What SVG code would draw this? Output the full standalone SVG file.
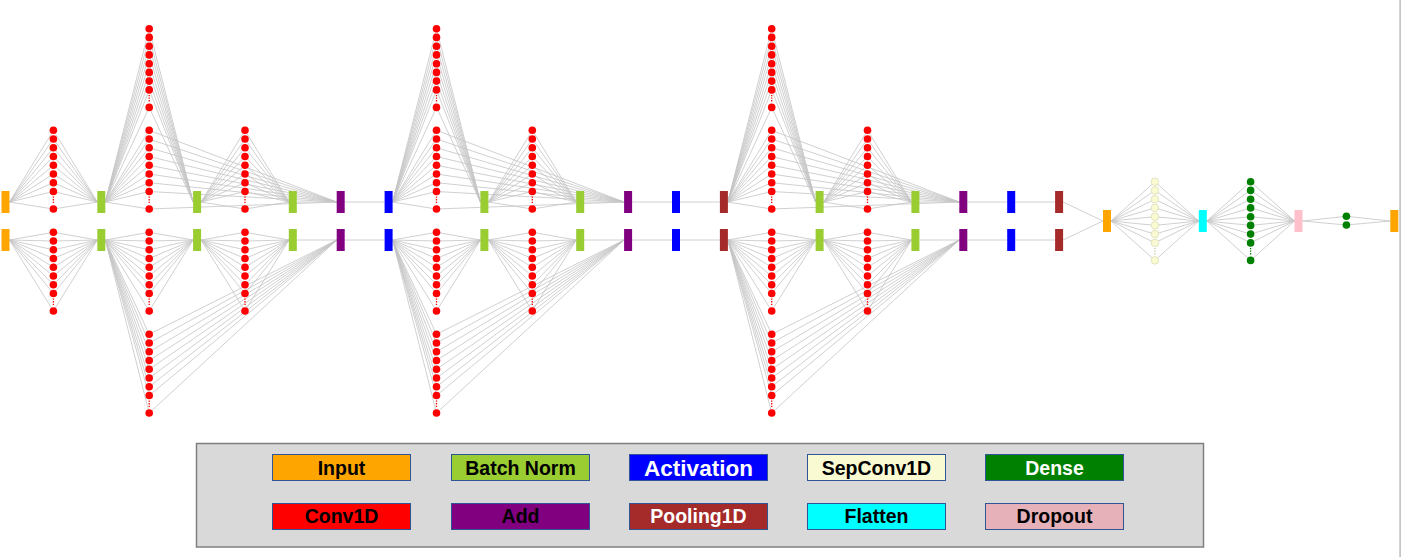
<svg xmlns="http://www.w3.org/2000/svg" width="1402" height="557" viewBox="0 0 1402 557">
<style>
.c path{stroke:#c4c4c4;stroke-width:0.8;fill:none}
.red circle{fill:#ff0000}
.sepc circle{fill:#fafad2;stroke:#d9d9b4;stroke-width:0.7}
.dn circle{fill:#008000}
.dtr{stroke:#ff0000;stroke-width:1.3;stroke-dasharray:1.3 1.3}
.dts{stroke:#c8c8a8;stroke-width:1.3;stroke-dasharray:1.3 1.3}
.dtg{stroke:#008000;stroke-width:1.3;stroke-dasharray:1.3 1.3}
.inp{fill:#ffa500}.bn{fill:#9acd32}.act{fill:#0000ff}.add{fill:#800080}.pool{fill:#a52a2a}.flat{fill:#00ffff}.drop{fill:#ffc0cb}
.lg rect{stroke:#2f5597;stroke-width:1}
.lt{font-family:"Liberation Sans",Arial,sans-serif;font-weight:bold;font-size:19.5px;text-anchor:middle}
</style>
<rect x="0" y="0" width="1402" height="557" fill="#ffffff"/>
<rect x="1399.3" y="0" width="1.6" height="557" fill="#c0c0c0"/>
<g id="connectors" class="c">
<g transform="translate(53.4,0)">
<path d="M-43.9 202L0 130.3"/><path d="M-43.9 202L0 139"/><path d="M-43.9 202L0 147.8"/><path d="M-43.9 202L0 156.5"/><path d="M-43.9 202L0 165.3"/><path d="M-43.9 202L0 174"/><path d="M-43.9 202L0 182.7"/><path d="M-43.9 202L0 191.5"/><path d="M-43.9 202L0 209"/>
<path d="M0 130.3L43.9 202"/><path d="M0 139L43.9 202"/><path d="M0 147.8L43.9 202"/><path d="M0 156.5L43.9 202"/><path d="M0 165.3L43.9 202"/><path d="M0 174L43.9 202"/><path d="M0 182.7L43.9 202"/><path d="M0 191.5L43.9 202"/><path d="M0 209L43.9 202"/>
<path d="M-43.9 240L0 232.3"/><path d="M-43.9 240L0 241"/><path d="M-43.9 240L0 249.8"/><path d="M-43.9 240L0 258.5"/><path d="M-43.9 240L0 267.3"/><path d="M-43.9 240L0 276"/><path d="M-43.9 240L0 284.7"/><path d="M-43.9 240L0 293.5"/><path d="M-43.9 240L0 311"/>
<path d="M0 232.3L43.9 240"/><path d="M0 241L43.9 240"/><path d="M0 249.8L43.9 240"/><path d="M0 258.5L43.9 240"/><path d="M0 267.3L43.9 240"/><path d="M0 276L43.9 240"/><path d="M0 284.7L43.9 240"/><path d="M0 293.5L43.9 240"/><path d="M0 311L43.9 240"/>
</g>
<g transform="translate(149.2,0)">
<path d="M-43.9 202L0 28.7"/><path d="M-43.9 202L0 37.4"/><path d="M-43.9 202L0 46.2"/><path d="M-43.9 202L0 54.9"/><path d="M-43.9 202L0 63.7"/><path d="M-43.9 202L0 72.4"/><path d="M-43.9 202L0 81.1"/><path d="M-43.9 202L0 89.9"/><path d="M-43.9 202L0 107.4"/>
<path d="M-43.9 202L0 130.3"/><path d="M-43.9 202L0 139"/><path d="M-43.9 202L0 147.8"/><path d="M-43.9 202L0 156.5"/><path d="M-43.9 202L0 165.3"/><path d="M-43.9 202L0 174"/><path d="M-43.9 202L0 182.7"/><path d="M-43.9 202L0 191.5"/><path d="M-43.9 202L0 209"/>
<path d="M0 28.7L43.9 202"/><path d="M0 37.4L43.9 202"/><path d="M0 46.2L43.9 202"/><path d="M0 54.9L43.9 202"/><path d="M0 63.7L43.9 202"/><path d="M0 72.4L43.9 202"/><path d="M0 81.1L43.9 202"/><path d="M0 89.9L43.9 202"/><path d="M0 107.4L43.9 202"/>
<path d="M0 130.3L187.6 202"/><path d="M0 139L187.6 202"/><path d="M0 147.8L187.6 202"/><path d="M0 156.5L187.6 202"/><path d="M0 165.3L187.6 202"/><path d="M0 174L187.6 202"/><path d="M0 182.7L187.6 202"/><path d="M0 191.5L187.6 202"/><path d="M0 209L187.6 202"/>
<path d="M51.9 202L95.8 130.3"/><path d="M51.9 202L95.8 139"/><path d="M51.9 202L95.8 147.8"/><path d="M51.9 202L95.8 156.5"/><path d="M51.9 202L95.8 165.3"/><path d="M51.9 202L95.8 174"/><path d="M51.9 202L95.8 182.7"/><path d="M51.9 202L95.8 191.5"/><path d="M51.9 202L95.8 209"/>
<path d="M95.8 130.3L139.7 202"/><path d="M95.8 139L139.7 202"/><path d="M95.8 147.8L139.7 202"/><path d="M95.8 156.5L139.7 202"/><path d="M95.8 165.3L139.7 202"/><path d="M95.8 174L139.7 202"/><path d="M95.8 182.7L139.7 202"/><path d="M95.8 191.5L139.7 202"/><path d="M95.8 209L139.7 202"/>
<path d="M147.7 202L187.6 202"/>
<path d="M-43.9 240L0 232.3"/><path d="M-43.9 240L0 241"/><path d="M-43.9 240L0 249.8"/><path d="M-43.9 240L0 258.5"/><path d="M-43.9 240L0 267.3"/><path d="M-43.9 240L0 276"/><path d="M-43.9 240L0 284.7"/><path d="M-43.9 240L0 293.5"/><path d="M-43.9 240L0 311"/>
<path d="M-43.9 240L0 334.3"/><path d="M-43.9 240L0 343"/><path d="M-43.9 240L0 351.8"/><path d="M-43.9 240L0 360.5"/><path d="M-43.9 240L0 369.3"/><path d="M-43.9 240L0 378"/><path d="M-43.9 240L0 386.7"/><path d="M-43.9 240L0 395.5"/><path d="M-43.9 240L0 413"/>
<path d="M0 232.3L43.9 240"/><path d="M0 241L43.9 240"/><path d="M0 249.8L43.9 240"/><path d="M0 258.5L43.9 240"/><path d="M0 267.3L43.9 240"/><path d="M0 276L43.9 240"/><path d="M0 284.7L43.9 240"/><path d="M0 293.5L43.9 240"/><path d="M0 311L43.9 240"/>
<path d="M0 334.3L187.6 240"/><path d="M0 343L187.6 240"/><path d="M0 351.8L187.6 240"/><path d="M0 360.5L187.6 240"/><path d="M0 369.3L187.6 240"/><path d="M0 378L187.6 240"/><path d="M0 386.7L187.6 240"/><path d="M0 395.5L187.6 240"/><path d="M0 413L187.6 240"/>
<path d="M51.9 240L95.8 232.3"/><path d="M51.9 240L95.8 241"/><path d="M51.9 240L95.8 249.8"/><path d="M51.9 240L95.8 258.5"/><path d="M51.9 240L95.8 267.3"/><path d="M51.9 240L95.8 276"/><path d="M51.9 240L95.8 284.7"/><path d="M51.9 240L95.8 293.5"/><path d="M51.9 240L95.8 311"/>
<path d="M95.8 232.3L139.7 240"/><path d="M95.8 241L139.7 240"/><path d="M95.8 249.8L139.7 240"/><path d="M95.8 258.5L139.7 240"/><path d="M95.8 267.3L139.7 240"/><path d="M95.8 276L139.7 240"/><path d="M95.8 284.7L139.7 240"/><path d="M95.8 293.5L139.7 240"/><path d="M95.8 311L139.7 240"/>
<path d="M147.7 240L187.6 240"/>
</g>
<g transform="translate(436.5,0)">
<path d="M-43.9 202L0 28.7"/><path d="M-43.9 202L0 37.4"/><path d="M-43.9 202L0 46.2"/><path d="M-43.9 202L0 54.9"/><path d="M-43.9 202L0 63.7"/><path d="M-43.9 202L0 72.4"/><path d="M-43.9 202L0 81.1"/><path d="M-43.9 202L0 89.9"/><path d="M-43.9 202L0 107.4"/>
<path d="M-43.9 202L0 130.3"/><path d="M-43.9 202L0 139"/><path d="M-43.9 202L0 147.8"/><path d="M-43.9 202L0 156.5"/><path d="M-43.9 202L0 165.3"/><path d="M-43.9 202L0 174"/><path d="M-43.9 202L0 182.7"/><path d="M-43.9 202L0 191.5"/><path d="M-43.9 202L0 209"/>
<path d="M0 28.7L43.9 202"/><path d="M0 37.4L43.9 202"/><path d="M0 46.2L43.9 202"/><path d="M0 54.9L43.9 202"/><path d="M0 63.7L43.9 202"/><path d="M0 72.4L43.9 202"/><path d="M0 81.1L43.9 202"/><path d="M0 89.9L43.9 202"/><path d="M0 107.4L43.9 202"/>
<path d="M0 130.3L187.6 202"/><path d="M0 139L187.6 202"/><path d="M0 147.8L187.6 202"/><path d="M0 156.5L187.6 202"/><path d="M0 165.3L187.6 202"/><path d="M0 174L187.6 202"/><path d="M0 182.7L187.6 202"/><path d="M0 191.5L187.6 202"/><path d="M0 209L187.6 202"/>
<path d="M51.9 202L95.8 130.3"/><path d="M51.9 202L95.8 139"/><path d="M51.9 202L95.8 147.8"/><path d="M51.9 202L95.8 156.5"/><path d="M51.9 202L95.8 165.3"/><path d="M51.9 202L95.8 174"/><path d="M51.9 202L95.8 182.7"/><path d="M51.9 202L95.8 191.5"/><path d="M51.9 202L95.8 209"/>
<path d="M95.8 130.3L139.7 202"/><path d="M95.8 139L139.7 202"/><path d="M95.8 147.8L139.7 202"/><path d="M95.8 156.5L139.7 202"/><path d="M95.8 165.3L139.7 202"/><path d="M95.8 174L139.7 202"/><path d="M95.8 182.7L139.7 202"/><path d="M95.8 191.5L139.7 202"/><path d="M95.8 209L139.7 202"/>
<path d="M147.7 202L187.6 202"/>
<path d="M-43.9 240L0 232.3"/><path d="M-43.9 240L0 241"/><path d="M-43.9 240L0 249.8"/><path d="M-43.9 240L0 258.5"/><path d="M-43.9 240L0 267.3"/><path d="M-43.9 240L0 276"/><path d="M-43.9 240L0 284.7"/><path d="M-43.9 240L0 293.5"/><path d="M-43.9 240L0 311"/>
<path d="M-43.9 240L0 334.3"/><path d="M-43.9 240L0 343"/><path d="M-43.9 240L0 351.8"/><path d="M-43.9 240L0 360.5"/><path d="M-43.9 240L0 369.3"/><path d="M-43.9 240L0 378"/><path d="M-43.9 240L0 386.7"/><path d="M-43.9 240L0 395.5"/><path d="M-43.9 240L0 413"/>
<path d="M0 232.3L43.9 240"/><path d="M0 241L43.9 240"/><path d="M0 249.8L43.9 240"/><path d="M0 258.5L43.9 240"/><path d="M0 267.3L43.9 240"/><path d="M0 276L43.9 240"/><path d="M0 284.7L43.9 240"/><path d="M0 293.5L43.9 240"/><path d="M0 311L43.9 240"/>
<path d="M0 334.3L187.6 240"/><path d="M0 343L187.6 240"/><path d="M0 351.8L187.6 240"/><path d="M0 360.5L187.6 240"/><path d="M0 369.3L187.6 240"/><path d="M0 378L187.6 240"/><path d="M0 386.7L187.6 240"/><path d="M0 395.5L187.6 240"/><path d="M0 413L187.6 240"/>
<path d="M51.9 240L95.8 232.3"/><path d="M51.9 240L95.8 241"/><path d="M51.9 240L95.8 249.8"/><path d="M51.9 240L95.8 258.5"/><path d="M51.9 240L95.8 267.3"/><path d="M51.9 240L95.8 276"/><path d="M51.9 240L95.8 284.7"/><path d="M51.9 240L95.8 293.5"/><path d="M51.9 240L95.8 311"/>
<path d="M95.8 232.3L139.7 240"/><path d="M95.8 241L139.7 240"/><path d="M95.8 249.8L139.7 240"/><path d="M95.8 258.5L139.7 240"/><path d="M95.8 267.3L139.7 240"/><path d="M95.8 276L139.7 240"/><path d="M95.8 284.7L139.7 240"/><path d="M95.8 293.5L139.7 240"/><path d="M95.8 311L139.7 240"/>
<path d="M147.7 240L187.6 240"/>
</g>
<g transform="translate(771.7,0)">
<path d="M-43.9 202L0 28.7"/><path d="M-43.9 202L0 37.4"/><path d="M-43.9 202L0 46.2"/><path d="M-43.9 202L0 54.9"/><path d="M-43.9 202L0 63.7"/><path d="M-43.9 202L0 72.4"/><path d="M-43.9 202L0 81.1"/><path d="M-43.9 202L0 89.9"/><path d="M-43.9 202L0 107.4"/>
<path d="M-43.9 202L0 130.3"/><path d="M-43.9 202L0 139"/><path d="M-43.9 202L0 147.8"/><path d="M-43.9 202L0 156.5"/><path d="M-43.9 202L0 165.3"/><path d="M-43.9 202L0 174"/><path d="M-43.9 202L0 182.7"/><path d="M-43.9 202L0 191.5"/><path d="M-43.9 202L0 209"/>
<path d="M0 28.7L43.9 202"/><path d="M0 37.4L43.9 202"/><path d="M0 46.2L43.9 202"/><path d="M0 54.9L43.9 202"/><path d="M0 63.7L43.9 202"/><path d="M0 72.4L43.9 202"/><path d="M0 81.1L43.9 202"/><path d="M0 89.9L43.9 202"/><path d="M0 107.4L43.9 202"/>
<path d="M0 130.3L187.6 202"/><path d="M0 139L187.6 202"/><path d="M0 147.8L187.6 202"/><path d="M0 156.5L187.6 202"/><path d="M0 165.3L187.6 202"/><path d="M0 174L187.6 202"/><path d="M0 182.7L187.6 202"/><path d="M0 191.5L187.6 202"/><path d="M0 209L187.6 202"/>
<path d="M51.9 202L95.8 130.3"/><path d="M51.9 202L95.8 139"/><path d="M51.9 202L95.8 147.8"/><path d="M51.9 202L95.8 156.5"/><path d="M51.9 202L95.8 165.3"/><path d="M51.9 202L95.8 174"/><path d="M51.9 202L95.8 182.7"/><path d="M51.9 202L95.8 191.5"/><path d="M51.9 202L95.8 209"/>
<path d="M95.8 130.3L139.7 202"/><path d="M95.8 139L139.7 202"/><path d="M95.8 147.8L139.7 202"/><path d="M95.8 156.5L139.7 202"/><path d="M95.8 165.3L139.7 202"/><path d="M95.8 174L139.7 202"/><path d="M95.8 182.7L139.7 202"/><path d="M95.8 191.5L139.7 202"/><path d="M95.8 209L139.7 202"/>
<path d="M147.7 202L187.6 202"/>
<path d="M-43.9 240L0 232.3"/><path d="M-43.9 240L0 241"/><path d="M-43.9 240L0 249.8"/><path d="M-43.9 240L0 258.5"/><path d="M-43.9 240L0 267.3"/><path d="M-43.9 240L0 276"/><path d="M-43.9 240L0 284.7"/><path d="M-43.9 240L0 293.5"/><path d="M-43.9 240L0 311"/>
<path d="M-43.9 240L0 334.3"/><path d="M-43.9 240L0 343"/><path d="M-43.9 240L0 351.8"/><path d="M-43.9 240L0 360.5"/><path d="M-43.9 240L0 369.3"/><path d="M-43.9 240L0 378"/><path d="M-43.9 240L0 386.7"/><path d="M-43.9 240L0 395.5"/><path d="M-43.9 240L0 413"/>
<path d="M0 232.3L43.9 240"/><path d="M0 241L43.9 240"/><path d="M0 249.8L43.9 240"/><path d="M0 258.5L43.9 240"/><path d="M0 267.3L43.9 240"/><path d="M0 276L43.9 240"/><path d="M0 284.7L43.9 240"/><path d="M0 293.5L43.9 240"/><path d="M0 311L43.9 240"/>
<path d="M0 334.3L187.6 240"/><path d="M0 343L187.6 240"/><path d="M0 351.8L187.6 240"/><path d="M0 360.5L187.6 240"/><path d="M0 369.3L187.6 240"/><path d="M0 378L187.6 240"/><path d="M0 386.7L187.6 240"/><path d="M0 395.5L187.6 240"/><path d="M0 413L187.6 240"/>
<path d="M51.9 240L95.8 232.3"/><path d="M51.9 240L95.8 241"/><path d="M51.9 240L95.8 249.8"/><path d="M51.9 240L95.8 258.5"/><path d="M51.9 240L95.8 267.3"/><path d="M51.9 240L95.8 276"/><path d="M51.9 240L95.8 284.7"/><path d="M51.9 240L95.8 293.5"/><path d="M51.9 240L95.8 311"/>
<path d="M95.8 232.3L139.7 240"/><path d="M95.8 241L139.7 240"/><path d="M95.8 249.8L139.7 240"/><path d="M95.8 258.5L139.7 240"/><path d="M95.8 267.3L139.7 240"/><path d="M95.8 276L139.7 240"/><path d="M95.8 284.7L139.7 240"/><path d="M95.8 293.5L139.7 240"/><path d="M95.8 311L139.7 240"/>
<path d="M147.7 240L187.6 240"/>
</g>
<path d="M344.7 202L384.6 202"/><path d="M344.7 240L384.6 240"/>
<path d="M632.1 202L672 202"/><path d="M680 202L719.9 202"/><path d="M632.1 240L672 240"/><path d="M680 240L719.9 240"/>
<path d="M967.3 202L1007.2 202"/><path d="M1015.2 202L1055.1 202"/><path d="M967.3 240L1007.2 240"/><path d="M1015.2 240L1055.1 240"/>
<path d="M1063.1 202L1103 221"/><path d="M1063.1 240L1103 221"/>
<path d="M1111 221L1154.9 181.7"/><path d="M1111 221L1154.9 190.4"/><path d="M1111 221L1154.9 199.2"/><path d="M1111 221L1154.9 207.9"/><path d="M1111 221L1154.9 216.7"/><path d="M1111 221L1154.9 225.4"/><path d="M1111 221L1154.9 234.1"/><path d="M1111 221L1154.9 242.9"/><path d="M1111 221L1154.9 260.4"/>
<path d="M1154.9 181.7L1198.8 221"/><path d="M1154.9 190.4L1198.8 221"/><path d="M1154.9 199.2L1198.8 221"/><path d="M1154.9 207.9L1198.8 221"/><path d="M1154.9 216.7L1198.8 221"/><path d="M1154.9 225.4L1198.8 221"/><path d="M1154.9 234.1L1198.8 221"/><path d="M1154.9 242.9L1198.8 221"/><path d="M1154.9 260.4L1198.8 221"/>
<path d="M1206.8 221L1250.6 181.7"/><path d="M1206.8 221L1250.6 190.4"/><path d="M1206.8 221L1250.6 199.2"/><path d="M1206.8 221L1250.6 207.9"/><path d="M1206.8 221L1250.6 216.7"/><path d="M1206.8 221L1250.6 225.4"/><path d="M1206.8 221L1250.6 234.1"/><path d="M1206.8 221L1250.6 242.9"/><path d="M1206.8 221L1250.6 260.4"/>
<path d="M1250.6 181.7L1294.5 221"/><path d="M1250.6 190.4L1294.5 221"/><path d="M1250.6 199.2L1294.5 221"/><path d="M1250.6 207.9L1294.5 221"/><path d="M1250.6 216.7L1294.5 221"/><path d="M1250.6 225.4L1294.5 221"/><path d="M1250.6 234.1L1294.5 221"/><path d="M1250.6 242.9L1294.5 221"/><path d="M1250.6 260.4L1294.5 221"/>
<path d="M1302.5 221L1346.4 216.3"/><path d="M1302.5 221L1346.4 225"/>
<path d="M1346.4 216.3L1390.3 221"/><path d="M1346.4 225L1390.3 221"/>
</g>
<g id="nodes">
<g id="input-u"><rect class="inp" x="1.5" y="191" width="8" height="22"/></g>
<g id="input-l"><rect class="inp" x="1.5" y="229" width="8" height="22"/></g>
<g id="conv0-u" class="red" transform="translate(53.4,0)"><circle cy="130.3" r="3.8"/><circle cy="139" r="3.8"/><circle cy="147.8" r="3.8"/><circle cy="156.5" r="3.8"/><circle cy="165.3" r="3.8"/><circle cy="174" r="3.8"/><circle cy="182.7" r="3.8"/><circle cy="191.5" r="3.8"/><line class="dtr" x1="0" y1="196.5" x2="0" y2="204"/><circle cy="209" r="3.8"/></g>
<g id="conv0-l" class="red" transform="translate(53.4,0)"><circle cy="232.3" r="3.8"/><circle cy="241" r="3.8"/><circle cy="249.8" r="3.8"/><circle cy="258.5" r="3.8"/><circle cy="267.3" r="3.8"/><circle cy="276" r="3.8"/><circle cy="284.7" r="3.8"/><circle cy="293.5" r="3.8"/><line class="dtr" x1="0" y1="298.5" x2="0" y2="306"/><circle cy="311" r="3.8"/></g>
<g id="bn0-u"><rect class="bn" x="97.3" y="191" width="8" height="22"/></g>
<g id="bn0-l"><rect class="bn" x="97.3" y="229" width="8" height="22"/></g>

<g id="b1-conv-main-u" class="red" transform="translate(149.2,0)"><circle cy="28.7" r="3.8"/><circle cy="37.4" r="3.8"/><circle cy="46.2" r="3.8"/><circle cy="54.9" r="3.8"/><circle cy="63.7" r="3.8"/><circle cy="72.4" r="3.8"/><circle cy="81.1" r="3.8"/><circle cy="89.9" r="3.8"/><line class="dtr" x1="0" y1="94.9" x2="0" y2="102.4"/><circle cy="107.4" r="3.8"/></g>
<g id="b1-conv-skip-u" class="red" transform="translate(149.2,0)"><circle cy="130.3" r="3.8"/><circle cy="139" r="3.8"/><circle cy="147.8" r="3.8"/><circle cy="156.5" r="3.8"/><circle cy="165.3" r="3.8"/><circle cy="174" r="3.8"/><circle cy="182.7" r="3.8"/><circle cy="191.5" r="3.8"/><line class="dtr" x1="0" y1="196.5" x2="0" y2="204"/><circle cy="209" r="3.8"/></g>
<g id="b1-conv-main-l" class="red" transform="translate(149.2,0)"><circle cy="232.3" r="3.8"/><circle cy="241" r="3.8"/><circle cy="249.8" r="3.8"/><circle cy="258.5" r="3.8"/><circle cy="267.3" r="3.8"/><circle cy="276" r="3.8"/><circle cy="284.7" r="3.8"/><circle cy="293.5" r="3.8"/><line class="dtr" x1="0" y1="298.5" x2="0" y2="306"/><circle cy="311" r="3.8"/></g>
<g id="b1-conv-skip-l" class="red" transform="translate(149.2,0)"><circle cy="334.3" r="3.8"/><circle cy="343" r="3.8"/><circle cy="351.8" r="3.8"/><circle cy="360.5" r="3.8"/><circle cy="369.3" r="3.8"/><circle cy="378" r="3.8"/><circle cy="386.7" r="3.8"/><circle cy="395.5" r="3.8"/><line class="dtr" x1="0" y1="400.5" x2="0" y2="408"/><circle cy="413" r="3.8"/></g>
<g id="b1-bn1-u"><rect class="bn" x="193.1" y="191" width="8" height="22"/></g>
<g id="b1-bn1-l"><rect class="bn" x="193.1" y="229" width="8" height="22"/></g>
<g id="b1-conv2-u" class="red" transform="translate(245,0)"><circle cy="130.3" r="3.8"/><circle cy="139" r="3.8"/><circle cy="147.8" r="3.8"/><circle cy="156.5" r="3.8"/><circle cy="165.3" r="3.8"/><circle cy="174" r="3.8"/><circle cy="182.7" r="3.8"/><circle cy="191.5" r="3.8"/><line class="dtr" x1="0" y1="196.5" x2="0" y2="204"/><circle cy="209" r="3.8"/></g>
<g id="b1-conv2-l" class="red" transform="translate(245,0)"><circle cy="232.3" r="3.8"/><circle cy="241" r="3.8"/><circle cy="249.8" r="3.8"/><circle cy="258.5" r="3.8"/><circle cy="267.3" r="3.8"/><circle cy="276" r="3.8"/><circle cy="284.7" r="3.8"/><circle cy="293.5" r="3.8"/><line class="dtr" x1="0" y1="298.5" x2="0" y2="306"/><circle cy="311" r="3.8"/></g>
<g id="b1-bn2-u"><rect class="bn" x="288.8" y="191" width="8" height="22"/></g>
<g id="b1-bn2-l"><rect class="bn" x="288.8" y="229" width="8" height="22"/></g>
<g id="b1-add-u"><rect class="add" x="336.7" y="191" width="8" height="22"/></g>
<g id="b1-add-l"><rect class="add" x="336.7" y="229" width="8" height="22"/></g>
<g id="b1-act-u"><rect class="act" x="384.6" y="191" width="8" height="22"/></g>
<g id="b1-act-l"><rect class="act" x="384.6" y="229" width="8" height="22"/></g>

<g id="b2-conv-main-u" class="red" transform="translate(436.5,0)"><circle cy="28.7" r="3.8"/><circle cy="37.4" r="3.8"/><circle cy="46.2" r="3.8"/><circle cy="54.9" r="3.8"/><circle cy="63.7" r="3.8"/><circle cy="72.4" r="3.8"/><circle cy="81.1" r="3.8"/><circle cy="89.9" r="3.8"/><line class="dtr" x1="0" y1="94.9" x2="0" y2="102.4"/><circle cy="107.4" r="3.8"/></g>
<g id="b2-conv-skip-u" class="red" transform="translate(436.5,0)"><circle cy="130.3" r="3.8"/><circle cy="139" r="3.8"/><circle cy="147.8" r="3.8"/><circle cy="156.5" r="3.8"/><circle cy="165.3" r="3.8"/><circle cy="174" r="3.8"/><circle cy="182.7" r="3.8"/><circle cy="191.5" r="3.8"/><line class="dtr" x1="0" y1="196.5" x2="0" y2="204"/><circle cy="209" r="3.8"/></g>
<g id="b2-conv-main-l" class="red" transform="translate(436.5,0)"><circle cy="232.3" r="3.8"/><circle cy="241" r="3.8"/><circle cy="249.8" r="3.8"/><circle cy="258.5" r="3.8"/><circle cy="267.3" r="3.8"/><circle cy="276" r="3.8"/><circle cy="284.7" r="3.8"/><circle cy="293.5" r="3.8"/><line class="dtr" x1="0" y1="298.5" x2="0" y2="306"/><circle cy="311" r="3.8"/></g>
<g id="b2-conv-skip-l" class="red" transform="translate(436.5,0)"><circle cy="334.3" r="3.8"/><circle cy="343" r="3.8"/><circle cy="351.8" r="3.8"/><circle cy="360.5" r="3.8"/><circle cy="369.3" r="3.8"/><circle cy="378" r="3.8"/><circle cy="386.7" r="3.8"/><circle cy="395.5" r="3.8"/><line class="dtr" x1="0" y1="400.5" x2="0" y2="408"/><circle cy="413" r="3.8"/></g>
<g id="b2-bn1-u"><rect class="bn" x="480.4" y="191" width="8" height="22"/></g>
<g id="b2-bn1-l"><rect class="bn" x="480.4" y="229" width="8" height="22"/></g>
<g id="b2-conv2-u" class="red" transform="translate(532.3,0)"><circle cy="130.3" r="3.8"/><circle cy="139" r="3.8"/><circle cy="147.8" r="3.8"/><circle cy="156.5" r="3.8"/><circle cy="165.3" r="3.8"/><circle cy="174" r="3.8"/><circle cy="182.7" r="3.8"/><circle cy="191.5" r="3.8"/><line class="dtr" x1="0" y1="196.5" x2="0" y2="204"/><circle cy="209" r="3.8"/></g>
<g id="b2-conv2-l" class="red" transform="translate(532.3,0)"><circle cy="232.3" r="3.8"/><circle cy="241" r="3.8"/><circle cy="249.8" r="3.8"/><circle cy="258.5" r="3.8"/><circle cy="267.3" r="3.8"/><circle cy="276" r="3.8"/><circle cy="284.7" r="3.8"/><circle cy="293.5" r="3.8"/><line class="dtr" x1="0" y1="298.5" x2="0" y2="306"/><circle cy="311" r="3.8"/></g>
<g id="b2-bn2-u"><rect class="bn" x="576.2" y="191" width="8" height="22"/></g>
<g id="b2-bn2-l"><rect class="bn" x="576.2" y="229" width="8" height="22"/></g>
<g id="b2-add-u"><rect class="add" x="624.1" y="191" width="8" height="22"/></g>
<g id="b2-add-l"><rect class="add" x="624.1" y="229" width="8" height="22"/></g>
<g id="b2-act-u"><rect class="act" x="672" y="191" width="8" height="22"/></g>
<g id="b2-act-l"><rect class="act" x="672" y="229" width="8" height="22"/></g>
<g id="b2-pool-u"><rect class="pool" x="719.9" y="191" width="8" height="22"/></g>
<g id="b2-pool-l"><rect class="pool" x="719.9" y="229" width="8" height="22"/></g>

<g id="b3-conv-main-u" class="red" transform="translate(771.7,0)"><circle cy="28.7" r="3.8"/><circle cy="37.4" r="3.8"/><circle cy="46.2" r="3.8"/><circle cy="54.9" r="3.8"/><circle cy="63.7" r="3.8"/><circle cy="72.4" r="3.8"/><circle cy="81.1" r="3.8"/><circle cy="89.9" r="3.8"/><line class="dtr" x1="0" y1="94.9" x2="0" y2="102.4"/><circle cy="107.4" r="3.8"/></g>
<g id="b3-conv-skip-u" class="red" transform="translate(771.7,0)"><circle cy="130.3" r="3.8"/><circle cy="139" r="3.8"/><circle cy="147.8" r="3.8"/><circle cy="156.5" r="3.8"/><circle cy="165.3" r="3.8"/><circle cy="174" r="3.8"/><circle cy="182.7" r="3.8"/><circle cy="191.5" r="3.8"/><line class="dtr" x1="0" y1="196.5" x2="0" y2="204"/><circle cy="209" r="3.8"/></g>
<g id="b3-conv-main-l" class="red" transform="translate(771.7,0)"><circle cy="232.3" r="3.8"/><circle cy="241" r="3.8"/><circle cy="249.8" r="3.8"/><circle cy="258.5" r="3.8"/><circle cy="267.3" r="3.8"/><circle cy="276" r="3.8"/><circle cy="284.7" r="3.8"/><circle cy="293.5" r="3.8"/><line class="dtr" x1="0" y1="298.5" x2="0" y2="306"/><circle cy="311" r="3.8"/></g>
<g id="b3-conv-skip-l" class="red" transform="translate(771.7,0)"><circle cy="334.3" r="3.8"/><circle cy="343" r="3.8"/><circle cy="351.8" r="3.8"/><circle cy="360.5" r="3.8"/><circle cy="369.3" r="3.8"/><circle cy="378" r="3.8"/><circle cy="386.7" r="3.8"/><circle cy="395.5" r="3.8"/><line class="dtr" x1="0" y1="400.5" x2="0" y2="408"/><circle cy="413" r="3.8"/></g>
<g id="b3-bn1-u"><rect class="bn" x="815.6" y="191" width="8" height="22"/></g>
<g id="b3-bn1-l"><rect class="bn" x="815.6" y="229" width="8" height="22"/></g>
<g id="b3-conv2-u" class="red" transform="translate(867.5,0)"><circle cy="130.3" r="3.8"/><circle cy="139" r="3.8"/><circle cy="147.8" r="3.8"/><circle cy="156.5" r="3.8"/><circle cy="165.3" r="3.8"/><circle cy="174" r="3.8"/><circle cy="182.7" r="3.8"/><circle cy="191.5" r="3.8"/><line class="dtr" x1="0" y1="196.5" x2="0" y2="204"/><circle cy="209" r="3.8"/></g>
<g id="b3-conv2-l" class="red" transform="translate(867.5,0)"><circle cy="232.3" r="3.8"/><circle cy="241" r="3.8"/><circle cy="249.8" r="3.8"/><circle cy="258.5" r="3.8"/><circle cy="267.3" r="3.8"/><circle cy="276" r="3.8"/><circle cy="284.7" r="3.8"/><circle cy="293.5" r="3.8"/><line class="dtr" x1="0" y1="298.5" x2="0" y2="306"/><circle cy="311" r="3.8"/></g>
<g id="b3-bn2-u"><rect class="bn" x="911.4" y="191" width="8" height="22"/></g>
<g id="b3-bn2-l"><rect class="bn" x="911.4" y="229" width="8" height="22"/></g>
<g id="b3-add-u"><rect class="add" x="959.3" y="191" width="8" height="22"/></g>
<g id="b3-add-l"><rect class="add" x="959.3" y="229" width="8" height="22"/></g>
<g id="b3-act-u"><rect class="act" x="1007.2" y="191" width="8" height="22"/></g>
<g id="b3-act-l"><rect class="act" x="1007.2" y="229" width="8" height="22"/></g>
<g id="b3-pool-u"><rect class="pool" x="1055.1" y="191" width="8" height="22"/></g>
<g id="b3-pool-l"><rect class="pool" x="1055.1" y="229" width="8" height="22"/></g>

<g id="merge"><rect class="inp" x="1103" y="210" width="8" height="22"/></g>
<g id="sepconv" class="sepc" transform="translate(1154.9,0)"><circle cy="181.7" r="3.8"/><circle cy="190.4" r="3.8"/><circle cy="199.2" r="3.8"/><circle cy="207.9" r="3.8"/><circle cy="216.7" r="3.8"/><circle cy="225.4" r="3.8"/><circle cy="234.1" r="3.8"/><circle cy="242.9" r="3.8"/><line class="dts" x1="0" y1="247.9" x2="0" y2="255.4"/><circle cy="260.4" r="3.8"/></g>
<g id="flatten"><rect class="flat" x="1198.8" y="210" width="8" height="22"/></g>
<g id="dense1" class="dn" transform="translate(1250.6,0)"><circle cy="181.7" r="3.8"/><circle cy="190.4" r="3.8"/><circle cy="199.2" r="3.8"/><circle cy="207.9" r="3.8"/><circle cy="216.7" r="3.8"/><circle cy="225.4" r="3.8"/><circle cy="234.1" r="3.8"/><circle cy="242.9" r="3.8"/><line class="dtg" x1="0" y1="247.9" x2="0" y2="255.4"/><circle cy="260.4" r="3.8"/></g>
<g id="dropout"><rect class="drop" x="1294.5" y="210" width="8" height="22"/></g>
<g id="dense2" class="dn" transform="translate(1346.4,0)"><circle cy="216.3" r="3.8"/><circle cy="225" r="3.8"/></g>
<g id="output"><rect class="inp" x="1390.3" y="210" width="8" height="22"/></g>
</g>
<g id="legend">
<rect x="196.5" y="443.5" width="1007" height="103.5" fill="#d9d9d9" stroke="#7f7f7f" stroke-width="1.5"/>
<g id="lg-input" class="lg"><rect x="272.5" y="454.5" width="138" height="26" fill="#ffa500"/><text class="lt" x="341.5" y="474.5" fill="#000000">Input</text></g>
<g id="lg-bn" class="lg"><rect x="451.5" y="454.5" width="138" height="26" fill="#9acd32"/><text class="lt" x="520.5" y="474.5" fill="#000000">Batch Norm</text></g>
<g id="lg-act" class="lg"><rect x="629.5" y="454.5" width="138" height="26" fill="#0000ff"/><text class="lt" x="698.5" y="475.5" fill="#ffffff" style="font-size:22.5px">Activation</text></g>
<g id="lg-sep" class="lg"><rect x="807.5" y="454.5" width="138" height="26" fill="#fafad2"/><text class="lt" x="876.5" y="474.5" fill="#000000">SepConv1D</text></g>
<g id="lg-dense" class="lg"><rect x="985.5" y="454.5" width="138" height="26" fill="#008000"/><text class="lt" x="1054.5" y="474.5" fill="#ffffff">Dense</text></g>
<g id="lg-conv" class="lg"><rect x="272.5" y="503.5" width="138" height="26" fill="#ff0000"/><text class="lt" x="341.5" y="523" fill="#000000">Conv1D</text></g>
<g id="lg-add" class="lg"><rect x="451.5" y="503.5" width="138" height="26" fill="#800080"/><text class="lt" x="520.5" y="523" fill="#000000">Add</text></g>
<g id="lg-pool" class="lg"><rect x="629.5" y="503.5" width="138" height="26" fill="#a52a2a"/><text class="lt" x="698.5" y="523" fill="#ffffff">Pooling1D</text></g>
<g id="lg-flat" class="lg"><rect x="807.5" y="503.5" width="138" height="26" fill="#00ffff"/><text class="lt" x="876.5" y="523" fill="#000000">Flatten</text></g>
<g id="lg-drop" class="lg"><rect x="985.5" y="503.5" width="138" height="26" fill="#e6b1b9"/><text class="lt" x="1054.5" y="523" fill="#000000">Dropout</text></g>
</g>
</svg>
